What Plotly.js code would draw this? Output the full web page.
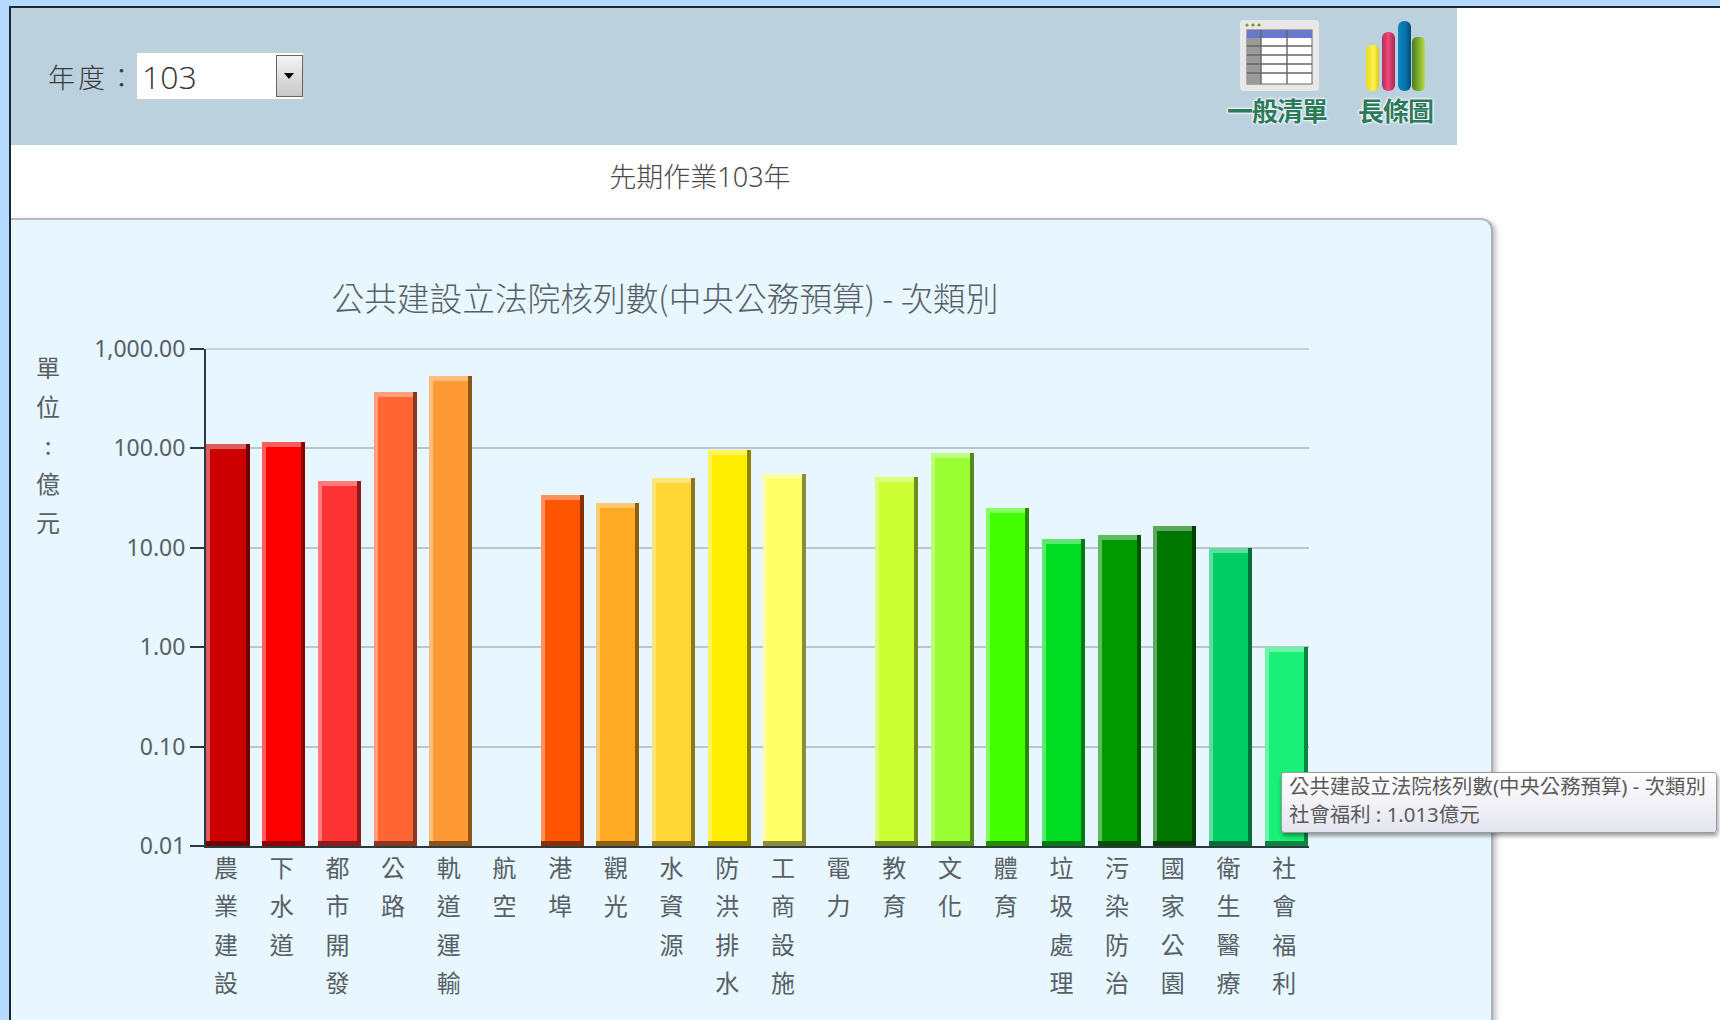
<!DOCTYPE html>
<html><head><meta charset="utf-8">
<script src="https://cdn.plot.ly/plotly-3.0.1.min.js"></script>
<style>
html,body{margin:0;padding:0;width:1720px;height:1020px;overflow:hidden;background:#b5d9ff;font-family:"Noto Sans","Noto Sans CJK TC",sans-serif;}
.abs{position:absolute;}
#page{left:9px;top:6px;width:1711px;height:1014px;background:#fff;border-left:2px solid #1a2a33;border-top:2px solid #1a2a33;box-sizing:border-box;}
#bar{left:11px;top:8px;width:1446px;height:137px;background:#bbd1de;}
#lab{left:48px;top:57px;font-size:27px;line-height:40px;color:#3a3a3a;letter-spacing:3px;font-family:"Noto Sans CJK TC";font-weight:300;}
#sel{left:136px;top:52px;width:168px;height:48px;background:#fff;border:1px solid #c6ccd0;box-sizing:border-box;}
#selt{left:142px;top:53px;font-size:32px;line-height:48px;color:#333;font-family:"Open Sans","Noto Sans";font-weight:300;}
#btn{left:276px;top:55px;width:27px;height:42px;box-sizing:border-box;border:1px solid #666;background:linear-gradient(#f4f4f4,#c8c8c8);}
#arr{left:284px;top:73px;width:0;height:0;border-left:5px solid transparent;border-right:5px solid transparent;border-top:6px solid #000;}
.ic{font-weight:700;font-size:26px;line-height:32px;color:#2c7a5c;font-family:"Noto Sans CJK TC";text-shadow:0 0 3px #fff,0 0 3px #fff,0 0 2px #fff;white-space:nowrap;}
#sub{left:400px;width:600px;top:158px;text-align:center;font-size:27px;line-height:38px;color:#4a4a4a;font-weight:300;}
#panel{left:11px;top:218px;width:1482px;height:830px;background:#e8f7ff;border-top:2px solid #b4bcbf;border-right:2px solid #a9b1b5;border-top-right-radius:12px;box-shadow:3px 2px 5px rgba(0,0,0,.25);box-sizing:border-box;}
#plot{left:0;top:0;width:1720px;height:1020px;}
#tip{left:1281px;top:772px;width:436px;height:61px;box-sizing:border-box;border:1px solid #9a9a9a;border-radius:3px;background:linear-gradient(#ffffff,#e4e4ee);box-shadow:1px 3px 4px rgba(0,0,0,.4);padding:0 0 0 7px;font-size:20.4px;line-height:27.5px;color:#5a5a5a;white-space:nowrap;}
</style></head>
<body>
<div id="page" class="abs"></div>
<div id="bar" class="abs"></div>
<div id="lab" class="abs">年度：</div>
<div id="sel" class="abs"></div>
<div id="selt" class="abs">103</div>
<div id="btn" class="abs"></div>
<div id="arr" class="abs"></div>
<svg class="abs" style="left:1240px;top:20px" width="80" height="72" viewBox="0 0 80 72">
  <rect x="0" y="0" width="79" height="71" rx="4" fill="#e8e8e8"/>
  <circle cx="7" cy="5" r="1.6" fill="#7a9a20"/><circle cx="13" cy="5" r="1.6" fill="#7a9a20"/><circle cx="19" cy="5" r="1.6" fill="#7a9a20"/>
  <rect x="7" y="10" width="65" height="54" fill="#fff" stroke="#666" stroke-width="1"/>
  <rect x="7" y="10" width="65" height="8" fill="#6a78cc"/>
  <rect x="7" y="18" width="14" height="46" fill="#9a9a9a"/>
  <path d="M7 26H72M7 35H72M7 44H72M7 53H72M21 10V64M47 10V64" stroke="#666" stroke-width="1.4" fill="none"/>
</svg>
<svg class="abs" style="left:1362px;top:20px" width="68" height="72" viewBox="0 0 68 72">
  <defs>
    <linearGradient id="g1"><stop offset="0" stop-color="#e8d820"/><stop offset=".6" stop-color="#fff050"/><stop offset="1" stop-color="#d8c818"/></linearGradient>
    <linearGradient id="g2"><stop offset="0" stop-color="#b03060"/><stop offset=".5" stop-color="#f04878"/><stop offset="1" stop-color="#a02858"/></linearGradient>
    <linearGradient id="g3"><stop offset="0" stop-color="#0a88c8"/><stop offset=".6" stop-color="#0a70a8"/><stop offset="1" stop-color="#084870"/></linearGradient>
    <linearGradient id="g4"><stop offset="0" stop-color="#4a7a20"/><stop offset=".6" stop-color="#8ab830"/><stop offset="1" stop-color="#c0d850"/></linearGradient>
  </defs>
  <rect x="4" y="25" width="13" height="46" rx="5" fill="url(#g1)"/>
  <rect x="20" y="12" width="13" height="59" rx="6" fill="url(#g2)"/>
  <rect x="36" y="1" width="13" height="70" rx="6" fill="url(#g3)"/>
  <rect x="50" y="17" width="13" height="54" rx="5" fill="url(#g4)"/>
</svg>
<div class="abs ic" style="left:1227px;top:94px;letter-spacing:-1px">一般清單</div>
<div class="abs ic" style="left:1358px;top:94px;letter-spacing:-1px">長條圖</div>
<div id="sub" class="abs">先期作業103年</div>
<div id="panel" class="abs"></div>
<div id="plot" class="abs"></div>
<div id="tip" class="abs">公共建設立法院核列數(中央公務預算) - 次類別<br>社會福利 : 1.013億元</div>
<script>
const categories = ["農業建設","下水道","都市開發","公路","軌道運輸","航空","港埠","觀光","水資源","防洪排水","工商設施","電力","教育","文化","體育","垃圾處理","污染防治","國家公園","衛生醫療","社會福利"];
const values = [110,115,47,370,530,null,34,28.5,50,97,55,null,51,89,25,12.3,13.6,16.5,10,1.013];
const barColors = ["#cc0000","#ff0000","#ff3333","#ff6633","#ff9933","#ff8800","#ff5500","#ffaa22","#ffd633","#ffee00","#ffff66","#ffdd00","#ccff33","#99ff33","#44ff00","#00dd22","#009900","#007700","#00cc66","#19f077"];
const yTickVals = [0.01,0.1,1,10,100,1000];
const yTickText = ["0.01","0.10","1.00","10.00","100.00","1,000.00"];
const chartTitle = "公共建設立法院核列數(中央公務預算) - 次類別";
const unitLabel = "單<br>位<br>:<br>億<br>元";

function mix(hex,target,a){
  const c=[1,3,5].map(i=>parseInt(hex.substr(i,2),16));
  return "rgb("+c.map(v=>Math.round(v+(target-v)*a)).join(",")+")";
}
const idx = categories.map((_,i)=>i);
const tickText = categories.map(c=>c.split("").join("<br>"));
const pitch=55.66, full=43/pitch, lw=4/pitch, rw=4/pitch, decade=99.4;
const bevelTop=Math.pow(10,-5/decade), bevelBottom=0.01*Math.pow(10,5/decade);
function layer(y,colors,width,offset,hover){
  return {type:"bar",x:idx,y:y,width:width,offset:offset,
    marker:{color:colors,line:{width:0}},
    hoverinfo:hover?"text":"skip",
    text:hover?categories.map((c,i)=>c+" : "+values[i]+"億元"):undefined,
    textposition:"none",showlegend:false};
}
const traces=[
  layer(values,barColors.map(c=>mix(c,0,0.45)),full,-full/2),
  layer(values,barColors.map(c=>mix(c,255,0.36)),full-rw,-full/2),
  layer(values.map(v=>v==null?null:v*bevelTop),barColors,full-lw-rw,-full/2+lw,true),
  layer(values.map(v=>v==null?null:bevelBottom),barColors.map(c=>mix(c,0,0.45)),full,-full/2)
];
const layout={
  width:1720,height:1020,
  margin:{l:206,r:411,t:349,b:174,pad:0},
  paper_bgcolor:"rgba(0,0,0,0)",plot_bgcolor:"rgba(0,0,0,0)",
  barmode:"overlay",bargap:0,
  font:{family:'"Noto Sans","Noto Sans CJK TC",sans-serif',color:"#566066"},
  title:{text:chartTitle,font:{size:32.7,color:"#566066",family:'"Noto Sans CJK TC",sans-serif',weight:300},x:665/1720,xanchor:"center",y:1-300/1020,yanchor:"middle"},
  xaxis:{range:[-0.395,19.41],tickmode:"array",tickvals:idx,ticktext:tickText,tickangle:0,ticks:"",showgrid:false,zeroline:false,
    showline:true,linecolor:"#2e3a40",linewidth:2,tickfont:{size:24,color:"#566066",family:'"Noto Sans CJK TC",sans-serif'},fixedrange:true},
  yaxis:{type:"log",range:[-2,3],tickmode:"array",tickvals:yTickVals,ticktext:yTickText,ticks:"outside",ticklen:14,tickwidth:2,tickcolor:"#2e3a40",
    showline:true,linecolor:"#2e3a40",linewidth:2,gridcolor:"#bfc6c9",gridwidth:1.5,zeroline:false,tickfont:{size:23,color:"#566066"},fixedrange:true},
  shapes:[{type:"line",xref:"paper",yref:"paper",x0:0,x1:1,y0:1,y1:1,layer:"below",line:{color:"#bfc6c9",width:1.5}}],
  annotations:[{text:unitLabel,xref:"paper",yref:"paper",x:(48-206)/1103,y:(846-446)/497,xanchor:"center",yanchor:"middle",showarrow:false,align:"center",
    font:{size:24,color:"#566066",family:'"Noto Sans CJK TC",sans-serif'}}],
  hovermode:"closest"
};
Plotly.newPlot("plot",traces,layout,{displayModeBar:false}).then(()=>{
  const lineGap=38.4;
  document.querySelectorAll("#plot .xtick text").forEach(t=>{
    t.querySelectorAll("tspan.line").forEach((s,i)=>{
      s.setAttribute("dy",(i*lineGap)+"px");
      s.setAttribute("x",parseFloat(s.getAttribute("x"))-2);
    });
  });
  document.querySelectorAll("#plot .annotation-text").forEach(t=>{
    t.querySelectorAll("tspan.line").forEach((s,i)=>s.setAttribute("dy",(i*38.8-17)+"px"));
  });
});
</script>
</body></html>
